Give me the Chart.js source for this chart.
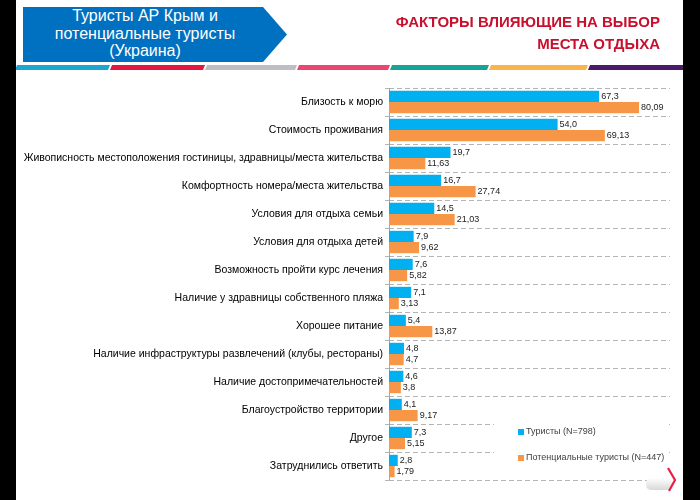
<!DOCTYPE html>
<html>
<head>
<meta charset="utf-8">
<script src="https://cdn.jsdelivr.net/npm/chart.js@4.4.0/dist/chart.umd.min.js"></script>
<style>
  html, body { margin: 0; padding: 0; background: #fff; }
  #wrap { position: relative; width: 700px; height: 500px; overflow: hidden; font-family: "Liberation Sans", Arial, sans-serif; }
  #chart { position: absolute; left: 0; top: 0; }
  .band { position: absolute; top: 0; height: 500px; background: #000; }
  #badge {
    position: absolute; left: 23px; top: 7px; width: 264px; height: 55px;
    background: #0070c0; color: #fff;
    clip-path: polygon(0 0, 240px 0, 264px 50%, 240px 100%, 0 100%);
    font-size: 16px; line-height: 17.5px; text-align: center;
  }
  #badge div { width: 244px; padding-top: 0px; }
  #title {
    position: absolute; right: 40px; top: 11px; color: #c8102e;
    font-family: "Liberation Sans", Arial, sans-serif;
    font-weight: bold; font-size: 15px; line-height: 22px; text-align: right;
  }
  .seg { position: absolute; top: 65px; height: 5px; transform: skewX(-22deg); }
</style>
</head>
<body>
<div id="wrap">
  <canvas id="chart" width="700" height="500"></canvas>
  <div id="badge"><div>Туристы АР Крым и<br>потенциальные туристы<br>(Украина)</div></div>
  <div id="title">ФАКТОРЫ ВЛИЯЮЩИЕ НА ВЫБОР<br>МЕСТА ОТДЫХА</div>
  <div class="seg" style="left:16px;width:93px;background:#1aa7d4"></div>
  <div class="seg" style="left:111px;width:93px;background:#e5173f"></div>
  <div class="seg" style="left:206px;width:90px;background:#bdbdc2"></div>
  <div class="seg" style="left:298px;width:91px;background:#ec4572"></div>
  <div class="seg" style="left:391px;width:97px;background:#15a596"></div>
  <div class="seg" style="left:490px;width:97px;background:#fbb44a"></div>
  <div class="seg" style="left:589px;width:96px;background:#4a1a6a"></div>
  <svg style="position:absolute;left:640px;top:462px" width="45" height="35">
    <defs><linearGradient id="g" x1="0" y1="0" x2="0" y2="1">
      <stop offset="0" stop-color="#ffffff"/><stop offset="1" stop-color="#d8d8d8"/></linearGradient></defs>
    <rect x="6" y="16" width="26" height="12" rx="5" fill="url(#g)"/>
    <path d="M28 6 L35 18 L29 29" fill="none" stroke="#ee1c4a" stroke-width="2.2"/>
  </svg>
  <div class="band" style="left:0;width:16px"></div>
  <div class="band" style="left:683px;width:17px"></div>
</div>
<script>
const categories = [
  'Близость к морю',
  'Стоимость проживания',
  'Живописность местоположения гостиницы, здравницы/места жительства',
  'Комфортность номера/места жительства',
  'Условия для отдыха семьи',
  'Условия для отдыха детей',
  'Возможность пройти курс лечения',
  'Наличие у здравницы собственного пляжа',
  'Хорошее питание',
  'Наличие инфраструктуры развлечений (клубы, рестораны)',
  'Наличие достопримечательностей',
  'Благоустройство территории',
  'Другое',
  'Затруднились ответить'
];
const tourists = [67.3, 54.0, 19.7, 16.7, 14.5, 7.9, 7.6, 7.1, 5.4, 4.8, 4.6, 4.1, 7.3, 2.8];
const potential = [80.09, 69.13, 11.63, 27.74, 21.03, 9.62, 5.82, 3.13, 13.87, 4.7, 3.8, 9.17, 5.15, 1.79];
const seriesNames = ['Туристы (N=798)', 'Потенциальные туристы (N=447)'];

// solid vertical axis line (grid lines are dashed)
const axisLine = {
  id: 'axisLine',
  beforeDatasetsDraw(chart) {
    const { ctx, chartArea } = chart;
    ctx.save();
    ctx.strokeStyle = '#a6a6a6';
    ctx.lineWidth = 1;
    ctx.beginPath();
    ctx.moveTo(chartArea.left + 0.5, chartArea.top);
    ctx.lineTo(chartArea.left + 0.5, chartArea.bottom);
    ctx.stroke();
    ctx.restore();
  }
};

// value labels to the right of each bar
const valueLabels = {
  id: 'valueLabels',
  afterDatasetsDraw(chart) {
    const ctx = chart.ctx;
    ctx.save();
    ctx.font = '9px "Liberation Sans Narrow", "Liberation Sans", Arial, sans-serif';
    ctx.fillStyle = '#222';
    ctx.textBaseline = 'middle';
    chart.data.datasets.forEach((ds, i) => {
      chart.getDatasetMeta(i).data.forEach((bar, j) => {
        const v = ds.data[j];
        const txt = (i === 0 ? v.toFixed(1) : String(v)).replace('.', ',');
        ctx.fillText(txt, bar.x + 2, bar.y);
      });
    });
    ctx.restore();
  }
};

// legend box in the lower right corner
const boxLegend = {
  id: 'boxLegend',
  afterDraw(chart) {
    const ctx = chart.ctx;
    ctx.save();
    ctx.fillStyle = '#fff';
    ctx.fillRect(494, 418, 172, 52);
    ctx.font = '9px "Liberation Sans Narrow", "Liberation Sans", Arial, sans-serif';
    ctx.textBaseline = 'middle';
    chart.data.datasets.forEach((ds, i) => {
      const y = 432 + i * 26;
      ctx.fillStyle = ds.backgroundColor;
      ctx.fillRect(518, y - 3, 6, 6);
      ctx.fillStyle = '#404040';
      ctx.fillText(ds.label, 526, y);
    });
    ctx.restore();
  }
};

new Chart(document.getElementById('chart'), {
  type: 'bar',
  data: {
    labels: categories,
    datasets: [
      { label: seriesNames[0], data: tourists, backgroundColor: '#00b0f0' },
      { label: seriesNames[1], data: potential, backgroundColor: '#f79646' }
    ]
  },
  options: {
    indexAxis: 'y',
    responsive: false,
    animation: false,
    layout: { padding: { left: 16, top: 88, right: 30, bottom: 20 } },
    datasets: { bar: { categoryPercentage: 0.8, barPercentage: 1.0 } },
    plugins: { legend: { display: false }, tooltip: { enabled: false } },
    scales: {
      x: { display: false, min: 0, max: 90 },
      y: {
        afterFit(scale) { scale.width = 373; },
        border: { display: false, dash: [5, 3] },
        grid: { offset: true, color: '#b4b4b4', tickLength: 4, tickColor: '#b4b4b4' },
        ticks: {
          color: '#000', padding: 2,
          font: { family: '"Liberation Sans", Arial, sans-serif', size: 10.5 }
        }
      }
    }
  },
  plugins: [axisLine, valueLabels, boxLegend]
});
</script>
</body>
</html>
